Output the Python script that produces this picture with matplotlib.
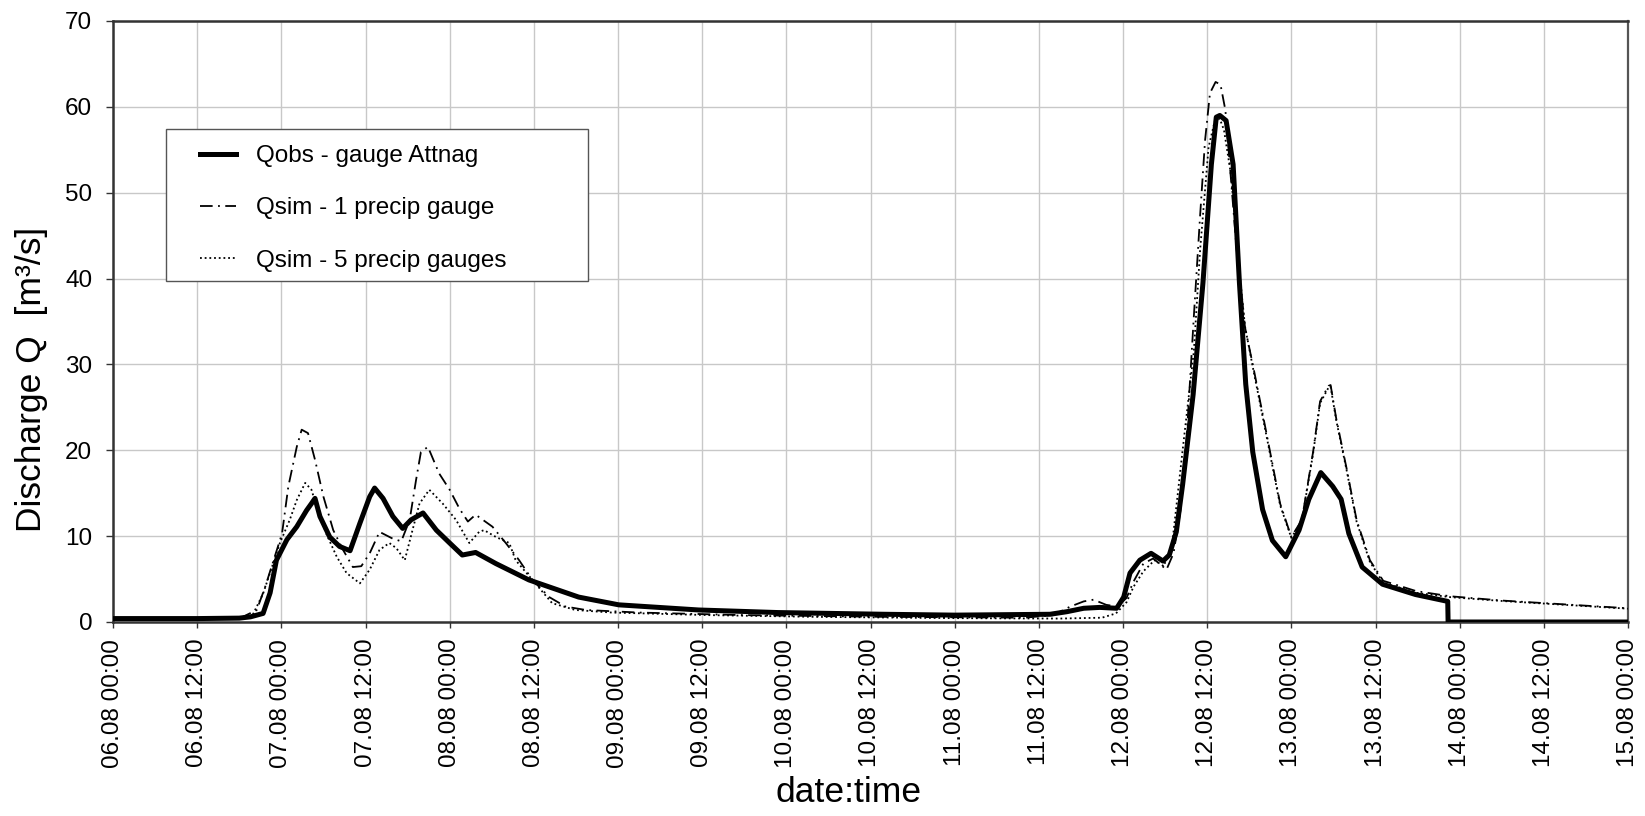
import matplotlib
matplotlib.use("Agg")
import matplotlib.pyplot as plt
import matplotlib.dates as mdates
from matplotlib.patches import Rectangle
import pandas as pd

plt.rcParams['font.family'] = ['Liberation Sans', 'DejaVu Sans']

# hours after 06.08 00:00
obs_h = [0, 12, 18, 19.6, 21.4, 22.4, 23.3, 24.8, 26.2, 27.6, 28.3, 28.8, 29.5, 30.9, 32.3, 33.8,
         35.2, 36.6, 37.3, 38.5, 39.9, 41.3, 42.5, 44.2, 46.1, 48.0, 49.8, 51.7, 54.6, 59.3, 66.4,
         72.1, 83.5, 94.8, 110, 120, 133.6, 136.0, 138.4, 140.7, 143.1, 144.1, 145.0, 146.4, 148.0,
         149.7, 150.6, 151.6, 152.5, 154.0, 155.4, 156.6, 157.3, 157.8, 158.7, 159.7, 160.6, 161.5,
         162.5, 163.9, 165.3, 167.2, 169.1, 170.5, 172.2, 173.9, 175.1, 176.2, 178.1, 181.0, 185.7,
         190.3, 190.35, 216]
obs_q = [0.4, 0.4, 0.45, 0.6, 1.0, 3.4, 7.2, 9.6, 11.1, 13.0, 13.8, 14.4, 12.3, 9.9, 8.8, 8.3,
         11.5, 14.6, 15.6, 14.4, 12.3, 10.9, 11.9, 12.7, 10.7, 9.2, 7.8, 8.1, 6.8, 4.9, 2.9,
         2.0, 1.4, 1.1, 0.9, 0.8, 0.9, 1.2, 1.6, 1.7, 1.6, 2.9, 5.7, 7.2, 8.0,
         7.1, 7.8, 10.5, 16.0, 26.5, 39.5, 53.3, 58.8, 59.0, 58.4, 53.3, 39.5, 27.7,
         19.8, 13.1, 9.5, 7.6, 10.7, 14.3, 17.4, 15.8, 14.3, 10.3, 6.4, 4.4, 3.2,
         2.4, 0.0, 0.0]

sim1_h = [0, 12, 18, 20.5, 21.7, 22.9, 24.1, 25.0, 26.2, 26.9, 27.8, 28.8, 30.0, 31.4, 32.8, 34.2,
          35.4, 36.6, 38.0, 39.9, 41.1, 42.3, 43.2, 43.9, 44.9, 46.5, 48.0, 49.4, 50.6, 51.7, 54.1,
          56.0, 57.9, 59.8, 62.2, 64.5, 67.4, 75, 90, 110, 130, 134, 136.5, 138.4, 139.8, 141.6,
          143.2, 144.5, 145.5, 146.9, 148.3, 150.2, 151.2, 152.2, 153.1, 154.1, 155.0, 155.7, 156.4,
          157.2, 157.9, 158.6, 160.2, 161.4, 162.6, 164.5, 166.4, 168.0, 169.5, 171.1, 172.1, 173.3,
          173.6, 174.4, 175.9, 177.3, 179.2, 181.1, 185.8, 190.6, 198, 204, 210, 216]
sim1_q = [0.3, 0.3, 0.4, 1.4, 4.1, 7.2, 10.3, 15.8, 20.4, 22.4, 22.0, 18.9, 14.6, 10.7, 8.4, 6.4,
          6.5, 8.0, 10.5, 9.7, 9.4, 11.9, 16.5, 19.8, 20.4, 17.3, 15.4, 13.2, 11.7, 12.5, 11.1,
          9.2, 7.2, 4.9, 2.9, 1.8, 1.4, 1.1, 0.8, 0.6, 0.5, 0.8, 1.8, 2.4, 2.6, 2.0,
          1.8, 2.8, 4.7, 6.8, 7.4, 6.1, 8.0, 13.0, 21.8, 35.6, 47.4, 56.1, 61.6,
          62.9, 62.6, 59.6, 43.4, 34.3, 29.6, 21.8, 13.8, 9.9, 11.9, 19.8, 25.7, 27.5,
          27.6, 23.7, 17.8, 11.9, 7.2, 4.8, 3.6, 3.0, 2.5, 2.2, 1.9, 1.6]

sim5_h = [0, 12, 18, 19.9, 21.4, 23.8, 25.2, 26.2, 27.4, 28.3, 29.3, 30.4, 31.9, 33.3, 35.2, 36.6,
          38.0, 39.4, 40.4, 41.6, 42.7, 43.7, 45.1, 47.0, 48.9, 50.8, 52.2, 52.9, 54.6, 56.5, 57.4,
          59.8, 62.6, 65.9, 71.1, 85, 100, 120, 135, 141, 143.0, 144.5, 145.5, 146.9, 148.5, 149.8,
          151.0, 152.5, 154.1, 155.0, 156.2, 157.1, 157.8, 158.4, 159.3, 160.0, 160.7, 161.4, 162.6,
          164.5, 166.4, 168.0, 169.5, 171.1, 172.1, 173.3, 173.6, 174.4, 175.9, 177.3, 179.2, 181.1,
          185.8, 190.6, 198, 204, 210, 216]
sim5_q = [0.35, 0.35, 0.4, 0.8, 3.3, 9.2, 11.9, 14.2, 16.2, 15.4, 12.7, 10.3, 7.6, 5.7, 4.5, 6.1,
          8.4, 9.2, 8.6, 7.2, 10.7, 13.8, 15.4, 13.8, 11.9, 9.2, 10.5, 10.7, 9.9, 9.2, 7.2,
          4.9, 2.2, 1.4, 1.1, 0.8, 0.6, 0.45, 0.4, 0.5, 1.0, 2.3, 4.1, 5.9, 7.2, 6.5,
          9.0, 20.0, 31.5, 43.4, 55.3, 58.4, 58.6, 57.3, 52.6, 46.8, 40.0, 34.4, 29.3,
          21.5, 13.6, 9.8, 11.8, 19.6, 25.5, 27.3, 27.4, 23.5, 17.6, 11.7, 7.0, 4.6,
          3.4, 2.9, 2.45, 2.15, 1.85, 1.55]

labels = ["Qobs - gauge Attnag", "Qsim - 1 precip gauge", "Qsim - 5 precip gauges"]
y_ticks = [0, 10, 20, 30, 40, 50, 60, 70]

base = pd.Timestamp("2002-08-06 00:00")
def tx(h):
    return base + pd.to_timedelta(h, unit="h")

fig = plt.figure(figsize=(16.45, 8.16), dpi=100)
ax = fig.add_axes([113/1645, 1 - 622/816, (1628 - 113)/1645, (622 - 21)/816])

ax.plot(tx(sim1_h), sim1_q, color="black", lw=1.3, dashes=(7, 3, 1, 3), label=labels[1], zorder=3)
ax.plot(tx(sim5_h), sim5_q, color="black", lw=1.3, linestyle=(0, (1, 1.6)), label=labels[2], zorder=3)
ax.plot(tx(obs_h), obs_q, color="black", lw=3.6, label=labels[0], zorder=4, solid_joinstyle="round")

ax.set_xlim(tx(0), tx(216))
ax.set_ylim(0, 70)
ax.set_yticks(y_ticks)
ax.xaxis.set_major_locator(mdates.HourLocator(byhour=[0, 12]))
ax.xaxis.set_major_formatter(mdates.DateFormatter("%d.%m %H:%M"))
ax.tick_params(axis="x", labelrotation=90, labelsize=17.5, length=4, width=1, pad=8, colors="#333333")
ax.tick_params(axis="y", labelsize=17.5, length=5, width=1, pad=10, colors="#333333")
for lab in ax.get_xticklabels() + ax.get_yticklabels():
    lab.set_color("black")

ax.grid(True, color="#c8c8c8", lw=1.0)
ax.set_axisbelow(True)
for side in ["left", "bottom", "top"]:
    ax.spines[side].set_color("#333333")
    ax.spines[side].set_linewidth(1.8)
ax.spines["right"].set_color("#555555")
ax.spines["right"].set_linewidth(1.6)

px_w, px_h = 1515.0, 601.0
ax.set_ylabel("Discharge Q  [m³/s]", fontsize=25.5)
ax.set_xlabel("date:time", fontsize=25.5)
ax.yaxis.set_label_coords((31.5 - 113)/px_w, (622 - 379)/px_h)
ax.xaxis.set_label_coords((849 - 113)/px_w, (622 - 792)/px_h)
ax.xaxis.label.set_verticalalignment("center")
ax.yaxis.label.set_verticalalignment("center")

# legend frame drawn as a rectangle (box wider than its content)
frame = Rectangle(((166 - 113)/px_w, (622 - 281)/px_h), (588 - 166)/px_w, (281 - 129)/px_h,
                  transform=ax.transAxes, facecolor="white", edgecolor="#555555", lw=1.0, zorder=5)
ax.add_patch(frame)

handles, labs = ax.get_legend_handles_labels()
order = [2, 0, 1]
leg = ax.legend([handles[i] for i in order], [labs[i] for i in order],
                loc="upper left", bbox_to_anchor=((200 - 113)/px_w, (622 - 145)/px_h),
                borderaxespad=0, borderpad=0, fontsize=17.5, frameon=False,
                handlelength=1.5, handletextpad=0.8, labelspacing=1.25)
leg.set_zorder(6)

fig.savefig("out.png", dpi=100)
